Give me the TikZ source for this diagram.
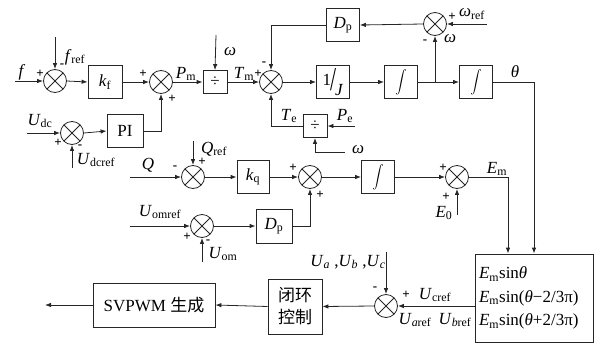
\documentclass[tikz,border=0pt]{standalone}
\usepackage{fontspec}
\setmainfont{Liberation Serif}
\newfontfamily\cjk{Noto Sans CJK SC}
\usetikzlibrary{arrows.meta}
\newcommand\vs[2]{\textit{#1}\textsubscript{#2}}
\newcommand\bigint{\scalebox{1.15}{$\displaystyle\int$}}
\begin{document}
\begin{tikzpicture}[x=1pt,y=-1pt,
  font=\fontsize{17}{20}\selectfont,
  ln/.style={draw=black!85, line width=0.8pt},
  ar/.style={ln, -{Latex[length=6pt,width=4.5pt]}},
  box/.style={draw=black!85, line width=0.8pt, inner sep=0pt, fill=white},
  sumj/.style={circle, draw=black!85, line width=0.8pt, minimum size=23pt, inner sep=0pt,
    path picture={\draw[black!85,line width=0.8pt] (path picture bounding box.north west)--(path picture bounding box.south east) (path picture bounding box.north east)--(path picture bounding box.south west);}},
  lbl/.style={inner sep=0pt},
  sg/.style={inner sep=0pt, font=\fontsize{13}{13}\selectfont\bfseries},
  intg/.style={box, minimum width=33pt, minimum height=33pt}
]
\useasboundingbox (0,0) rectangle (595,343);

% ---- nodes
\node[sumj] (s1) at (55,81) {};
\node[box, minimum width=34pt, minimum height=33pt] (kf) at (105,82) {\vs{k}{f}};
\node[sumj] (s2) at (161,82) {};
\node[box, minimum width=24pt, minimum height=23pt] (d1) at (215,82) {÷};
\node[sumj] (s3) at (271,82) {};
\node[box, minimum width=33pt, minimum height=33pt] (iJ) at (333,82) {\raisebox{5pt}{1}\kern-1pt\resizebox{6pt}{22pt}{/}\kern-1pt\raisebox{-5pt}{\textit{J}}};
\node[intg] (i1) at (401,82) {\bigint};
\coordinate (b1) at (435,82);
\node[intg] (i2) at (476,82) {\bigint};
\node[sumj] (s4) at (435,24) {};
\node[box, minimum width=33pt, minimum height=33pt] (dp1) at (343,25) {\vs{D}{p}};
\node[box, minimum width=24pt, minimum height=23pt] (d2) at (315,126) {÷};
\node[sumj] (s5) at (72,133) {};
\node[box, minimum width=36pt, minimum height=33pt] (pi) at (125,131) {PI};
\node[sumj] (s6) at (193,177) {};
\node[box, minimum width=32pt, minimum height=33pt] (kq) at (253,177) {\vs{k}{q}};
\node[sumj] (s7) at (310,177) {};
\node[intg] (i3) at (378,177) {\bigint};
\node[sumj] (s8) at (457,177) {};
\node[sumj] (s9) at (202,226) {};
\node[box, minimum width=36pt, minimum height=34pt] (dp2) at (274,226) {\vs{D}{p}};
\node[box, minimum width=118pt, minimum height=88pt, text width=110pt, align=left,
  font=\fontsize{17}{23.5}\selectfont, inner sep=4pt] (bb) at (534,298)
  {\vs{E}{m}sin\textit{θ}\\ \vs{E}{m}sin(\textit{θ}−2/3π)\\ \vs{E}{m}sin(\textit{θ}+2/3π)};
\node[sumj] (s10) at (386,306) {};
\node[box, minimum width=54pt, minimum height=55pt, align=center, font=\fontsize{17}{22}\cjk] (cl) at (295,306.5) {闭环\\控制};
\node[box, minimum width=122pt, minimum height=44pt] (sv) at (154,305) {SVPWM {\cjk 生成}};

% ---- free ends
\coordinate (fin) at (15,81);
\coordinate (fref) at (55,37);
\coordinate (win1) at (216,35);
\coordinate (wref) at (487,24);
\coordinate (pe) at (355,126);
\coordinate (w2) at (345,152);
\coordinate (udc) at (27,133);
\coordinate (udcref) at (72,168);
\coordinate (qin) at (130,177);
\coordinate (qref) at (193,141);
\coordinate (e0) at (457,215);
\coordinate (uomref) at (130,226);
\coordinate (uom) at (202,262);
\coordinate (uabc) at (386,252);
\coordinate (out) at (45,305);

% ---- connectors
\draw[ar] (fin) -- (s1.west);
\draw[ar] (fref) -- (s1.north);
\draw[ar] (s1.east) -- (kf.west);
\draw[ar] (kf.east) -- (s2.west);
\draw[ar] (s2.east) -- (d1.west);
\draw[ar] (win1) -- (d1.north);
\draw[ar] (d1.east) -- (s3.west);
\draw[ar] (dp1.west) -| (s3.north);
\draw[ar] (s4.west) -- (dp1.east);
\draw[ar] (wref) -- (s4.east);
\draw[ar] (s3.east) -- (iJ.west);
\draw[ar] (iJ.east) -- (i1.west);
\draw[ln] (i1.east) -- (b1);
\draw[ar] (b1) -- (i2.west);
\draw[ar] (b1) -- (s4.south);
\draw[ar] (i2.east) -| (bb.north);
\draw[ar] (d2.west) -| (s3.south);
\draw[ar] (pe) -- (d2.east);
\draw[ar] (w2) -| (d2.south);
\draw[ar] (udc) -- (s5.west);
\draw[ar] (udcref) -- (s5.south);
\draw[ar] (s5.east) -- (pi.west);
\draw[ar] (pi.east) -| (s2.south);
\draw[ar] (qin) -- (s6.west);
\draw[ar] (qref) -- (s6.north);
\draw[ar] (s6.east) -- (kq.west);
\draw[ar] (kq.east) -- (s7.west);
\draw[ar] (s7.east) -- (i3.west);
\draw[ar] (i3.east) -- (s8.west);
\draw[ar] (e0) -- (s8.south);
\draw[ar] (s8.east) -| ([xshift=-26pt]bb.north);
\draw[ar] (uomref) -- (s9.west);
\draw[ar] (uom) -- (s9.south);
\draw[ar] (s9.east) -- (dp2.west);
\draw[ar] (dp2.east) -| (s7.south);
\draw[ar] (bb.west |- s10) -- (s10.east);
\draw[ar] (uabc) -- (s10.north);
\draw[ar] (s10.west) -- (cl.east);
\draw[ar] (cl.west) -- (sv.east);
\draw[ar] (sv.west) -- (out);

% ---- labels
\node[lbl] (lf) at (22,72) {\textit{f}};
\node[sg] (p1) at (40,74) {+};
\node[lbl] (lfref) at (75,57) {\vs{f}{ref}};
\node[sg] (m1) at (62,66) {-};
\node[sg] (p2) at (143,74) {+};
\node[lbl] (lpm) at (186,74) {\vs{P}{m}};
\node[sg] (p3) at (172,99) {+};
\node[lbl] (lw1) at (230,52) {\textit{ω}};
\node[lbl] (ltm) at (244,74) {\vs{T}{m}};
\node[sg] (p4) at (258,74) {+};
\node[sg] (m2) at (264,64) {-};
\node[sg] (p5) at (452,17) {+};
\node[lbl] (lwref) at (472,14) {\vs{ω}{ref}};
\node[sg] (m3) at (425,42) {-};
\node[lbl] (lw2) at (450,39) {\textit{ω}};
\node[lbl] (lth) at (515,72) {\textit{θ}};
\node[lbl] (lte) at (289,116) {\vs{T}{e}};
\node[lbl] (lpe) at (345,116) {\vs{P}{e}};
\node[lbl] (lw3) at (358,150) {\textit{ω}};
\node[lbl] (ludc) at (40,121) {\vs{U}{dc}};
\node[sg] (p6) at (58,143) {+};
\node[sg] (m4) at (80,147) {-};
\node[lbl] (ludcref) at (96,160) {\vs{U}{dcref}};
\node[lbl] (lq) at (148,165) {\textit{Q}};
\node[sg] (m5) at (175,168) {-};
\node[lbl] (lqref) at (214,149) {\vs{Q}{ref}};
\node[sg] (p7) at (202,162) {+};
\node[sg] (p8) at (293,168) {+};
\node[sg] (p9) at (320,195) {+};
\node[sg] (p10) at (443,168) {+};
\node[sg] (p11) at (446,197) {+};
\node[lbl] (le0) at (444,213) {\vs{E}{0}};
\node[lbl] (lem) at (497,169) {\vs{E}{m}};
\node[lbl] (luomref) at (160,212) {\vs{U}{omref}};
\node[sg] (p12) at (187,237) {+};
\node[sg] (m6) at (208,242) {-};
\node[lbl] (luom) at (223,254) {\vs{U}{om}};
\node[lbl] (luabc) at (348,262) {\textit{U}\textsubscript{\textit{a}} ,\textit{U}\textsubscript{\textit{b}} ,\textit{U}\textsubscript{\textit{c}}};
\node[sg] (m7) at (375,289) {-};
\node[sg] (p13) at (406,295) {+};
\node[lbl] (lucref) at (435,295) {\textit{U}\textsubscript{cref}};
\node[lbl] (luaref) at (415,320) {\textit{U}\textsubscript{\textit{a}ref}};
\node[lbl] (lubref) at (455,320) {\textit{U}\textsubscript{\textit{b}ref}};
\end{tikzpicture}
\end{document}
